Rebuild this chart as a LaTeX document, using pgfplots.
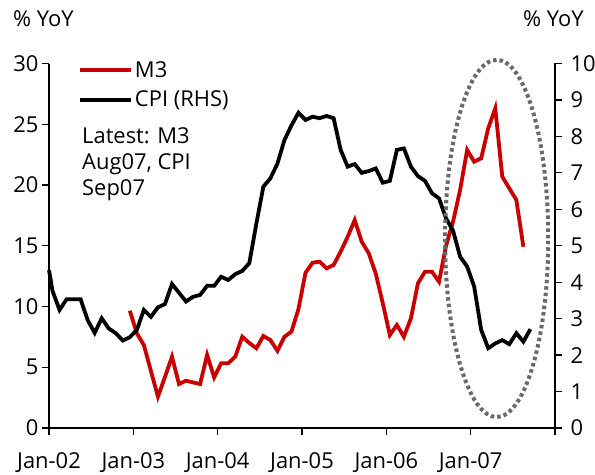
\documentclass[border=0pt]{standalone}
\usepackage{fontspec}
\setmainfont{Open Sans}
\usepackage{pgfplots}
\usepackage{pgfplotstable}
\pgfplotsset{compat=1.18}
\definecolor{mred}{RGB}{200,0,0}
\definecolor{ellgray}{RGB}{105,105,105}

% month index: 0 = Jan-02
\pgfplotstableread{
m v
11 9.65
12 7.79
13 6.83
14 4.70
15 2.58
16 4.20
17 5.87
18 3.62
19 3.89
20 3.75
21 3.62
22 6.01
23 4.17
24 5.33
25 5.33
26 5.87
27 7.51
28 7.00
29 6.56
30 7.57
31 7.24
32 6.36
33 7.51
34 7.93
35 9.80
36 12.78
37 13.60
38 13.69
39 13.14
40 13.42
41 14.51
42 15.74
43 17.12
44 15.33
45 14.38
46 12.70
47 10.26
48 7.65
49 8.48
50 7.51
51 9.03
52 11.91
53 12.86
54 12.86
55 12.04
56 15.00
57 17.00
58 19.59
59 22.88
60 21.92
61 22.20
62 24.67
63 26.31
64 20.68
65 19.73
66 18.77
67 14.92
}\mthree

\pgfplotstableread{
m v
-0.5 4.33
0 3.76
1 3.24
2 3.53
3 3.53
4 3.53
5 2.96
6 2.61
7 3.01
8 2.73
9 2.60
10 2.40
11 2.49
12 2.69
13 3.24
14 3.05
15 3.31
16 3.40
17 3.95
18 3.71
19 3.47
20 3.60
21 3.65
22 3.90
23 3.90
24 4.15
25 4.06
26 4.22
27 4.31
28 4.52
29 5.60
30 6.62
31 6.85
32 7.25
33 7.90
34 8.30
35 8.65
36 8.45
37 8.54
38 8.50
39 8.56
40 8.50
41 7.63
42 7.17
43 7.24
44 7.00
45 7.05
46 7.12
47 6.73
48 6.78
49 7.63
50 7.67
51 7.17
52 6.91
53 6.78
54 6.44
55 6.30
56 5.75
57 5.41
58 4.70
59 4.43
60 3.88
61 2.69
62 2.19
63 2.32
64 2.41
65 2.30
66 2.60
67 2.37
68 2.71
}\cpi

\pgfplotsset{
  common/.style={
    scale only axis, width=506bp, height=364.5bp,
    xmin=-0.5, xmax=71.5,
    tick align=outside, major tick length=7bp,
    axis line style={line width=1.3bp},
    tick style={line width=1.3bp, black},
    /pgf/number format/assume math mode=true,
    ticklabel style={font=\fontsize{22}{26}\selectfont},
    clip=false,
  }
}

\begin{document}
\begin{tikzpicture}[font=\fontsize{22}{26}\selectfont]
\useasboundingbox (-49bp,-47bp) rectangle (546bp,428bp);
\begin{axis}[common,
  ymin=0, ymax=30,
  axis x line*=bottom, axis y line*=left,
  xtick={-0.5,11.5,23.5,35.5,47.5,59.5,71.5},
  xticklabels={Jan-02,Jan-03,Jan-04,Jan-05,Jan-06,Jan-07,},
  xticklabel style={yshift=-14bp},
  ytick={0,5,...,30},
  legend style={draw=none, fill=none, at={([xshift=26bp,yshift=6bp]rel axis cs:0,1)}, anchor=north west,
    font=\fontsize{22}{26}\selectfont, row sep=8bp},
  legend cell align=left,
  legend image code/.code={\draw[#1] (0bp,0bp) -- (51bp,0bp);},
]
\addplot[mred, line width=3.8bp] table[x=m, y=v] {\mthree};
\addlegendentry{M3}
\addlegendimage{black, line width=3.8bp}
\addlegendentry{CPI (RHS)}
\node[anchor=west, inner sep=0pt] at ([xshift=-36bp, yshift=45bp]rel axis cs:0,1) {\% YoY};
\node[anchor=north west, align=left, inner sep=0pt] at ([xshift=33bp, yshift=-64bp]rel axis cs:0,1)
  {Latest: M3\\Aug07, CPI\\Sep07};
\end{axis}
\begin{axis}[common,
  ymin=0, ymax=10,
  axis x line=none, axis y line*=right,
  ytick={0,1,...,10},
  yticklabel style={xshift=5bp},
]
\addplot[black, line width=3.8bp] table[x=m, y=v] {\cpi};
\draw[ellgray, line width=4bp, dash pattern=on 3.5bp off 3bp]
  (axis cs:63.2,5.2) ellipse [x radius=7.34, y radius=4.9];
\node[anchor=west, inner sep=0pt] at ([xshift=-32bp, yshift=45bp]rel axis cs:1,1) {\% YoY};
\end{axis}
\end{tikzpicture}
\end{document}
